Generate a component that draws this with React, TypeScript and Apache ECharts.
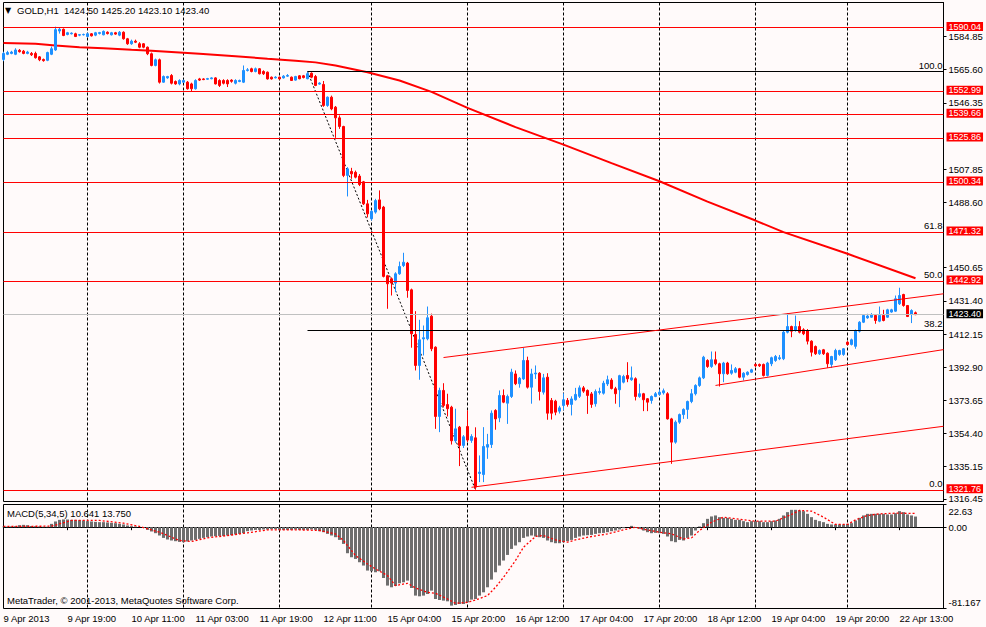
import React, { useEffect, useRef } from "react";
import * as echarts from "echarts";

const SYMBOL = "GOLD,H1";
const YEAR = "2013";
const MACD_NAME = "MACD(5,34,5)";
const MACD_VALUE = 10.641;
const SIGNAL_VALUE = 13.75;
const COPYRIGHT = "MetaTrader, \u00a9 2001-2013, MetaQuotes Software Corp.";

// trading sessions: day label, first hour, last hour
const sessions: [string, number, number][] = [
  ["9 Apr", 3, 23], ["10 Apr", 0, 23], ["11 Apr", 0, 23], ["12 Apr", 0, 22],
  ["15 Apr", 0, 23], ["16 Apr", 0, 23], ["17 Apr", 0, 23], ["18 Apr", 0, 23],
  ["19 Apr", 0, 22], ["22 Apr", 0, 23], ["23 Apr", 0, 0],
];

const opens = [
  1571.5, 1574.5, 1575.0, 1574.5, 1576.8, 1576.3, 1575.0, 1575.0, 1575.0, 1573.0,
  1571.5, 1571.0, 1574.5, 1577.0, 1588.0, 1589.0, 1586.0, 1586.4, 1586.4, 1585.6,
  1585.8, 1584.8, 1586.4, 1585.6, 1586.6, 1585.8, 1587.3, 1585.8, 1587.0, 1585.6,
  1587.3, 1583.5, 1580.6, 1582.1, 1580.6, 1580.6, 1578.6, 1574.8, 1568.0, 1571.3,
  1558.3, 1560.8, 1562.2, 1558.7, 1557.3, 1558.3, 1558.3, 1557.3, 1554.5, 1560.2,
  1560.2, 1560.0, 1560.3, 1560.8, 1559.3, 1559.3, 1559.3, 1559.5, 1557.7, 1558.7,
  1558.3, 1565.1, 1566.1, 1564.5, 1566.1, 1564.5, 1564.1, 1561.2, 1560.8, 1561.2,
  1560.8, 1561.8, 1561.2, 1559.5, 1562.0, 1562.0, 1560.3, 1563.5, 1561.6, 1557.2,
  1557.0, 1544.8, 1549.6, 1543.8, 1537.6, 1532.6, 1504.2, 1506.5, 1506.0, 1503.8,
  1500.5, 1487.7, 1479.0, 1482.9, 1490.0, 1485.8, 1446.0, 1444.2, 1441.7, 1447.1,
  1451.9, 1453.3, 1437.8, 1411.9, 1393.9, 1409.3, 1409.4, 1422.5, 1404.5, 1364.3,
  1379.4, 1371.2, 1369.7, 1350.2, 1358.1, 1347.5, 1358.5, 1350.4, 1351.9, 1331.2,
  1330.6, 1346.5, 1348.0, 1367.8, 1363.5, 1376.5, 1372.0, 1375.9, 1389.0, 1383.3,
  1386.1, 1396.8, 1381.3, 1389.0, 1389.4, 1378.4, 1387.1, 1373.6, 1373.2, 1367.4,
  1370.7, 1373.6, 1371.3, 1374.0, 1376.0, 1380.9, 1379.4, 1377.4, 1371.7, 1378.2,
  1377.8, 1383.2, 1385.4, 1380.4, 1379.8, 1384.2, 1388.1, 1385.6, 1386.2, 1375.9,
  1377.5, 1374.6, 1373.6, 1375.9, 1377.1, 1378.0, 1377.5, 1362.9, 1349.4, 1361.0,
  1365.4, 1368.4, 1373.0, 1377.5, 1382.3, 1386.7, 1396.8, 1393.3, 1397.2, 1394.9,
  1389.1, 1395.3, 1389.4, 1390.0, 1392.0, 1387.1, 1388.7, 1390.0, 1394.5, 1394.5,
  1394.5, 1388.1, 1394.9, 1396.8, 1397.8, 1397.8, 1413.2, 1416.5, 1414.2, 1416.5,
  1414.6, 1414.2, 1408.0, 1404.9, 1400.7, 1403.0, 1401.0, 1394.5, 1397.2, 1400.3,
  1400.3, 1407.4, 1406.1, 1405.0, 1413.8, 1419.0, 1421.5, 1421.9, 1422.9, 1419.6,
  1422.9, 1421.9, 1424.9, 1425.4, 1429.7, 1435.1, 1428.7, 1423.5, 1424.5,
];

const closes = [
  1575.0, 1575.5, 1575.8, 1577.0, 1576.0, 1575.0, 1575.8, 1574.2, 1572.5, 1571.3,
  1570.8, 1575.5, 1577.7, 1588.8, 1589.0, 1585.4, 1587.0, 1586.8, 1584.8, 1585.9,
  1586.0, 1586.4, 1585.2, 1587.0, 1587.1, 1587.8, 1586.5, 1587.0, 1586.2, 1587.3,
  1583.5, 1580.6, 1582.1, 1581.5, 1578.6, 1578.6, 1574.8, 1568.0, 1571.3, 1558.3,
  1561.6, 1561.6, 1557.7, 1557.3, 1559.3, 1559.3, 1554.5, 1554.5, 1559.3, 1559.5,
  1559.8, 1560.4, 1560.8, 1557.3, 1556.4, 1557.7, 1557.3, 1558.8, 1559.3, 1559.3,
  1565.1, 1565.5, 1564.5, 1566.1, 1563.2, 1563.2, 1560.2, 1560.2, 1561.2, 1560.2,
  1561.8, 1562.2, 1559.3, 1561.6, 1560.3, 1561.0, 1563.2, 1561.2, 1556.4, 1557.8,
  1544.8, 1549.6, 1542.8, 1537.6, 1532.6, 1504.2, 1508.0, 1505.1, 1503.2, 1498.9,
  1487.7, 1481.9, 1483.4, 1489.6, 1484.8, 1445.6, 1441.3, 1441.7, 1447.1, 1451.3,
  1453.8, 1437.4, 1412.3, 1393.9, 1408.8, 1410.0, 1421.6, 1403.6, 1364.3, 1379.4,
  1370.7, 1368.8, 1350.2, 1357.1, 1347.5, 1352.5, 1350.6, 1352.7, 1323.3, 1332.0,
  1346.9, 1348.0, 1366.2, 1362.9, 1376.5, 1372.6, 1375.9, 1390.0, 1383.3, 1386.5,
  1396.8, 1381.3, 1389.0, 1389.5, 1378.8, 1386.7, 1366.2, 1366.2, 1366.8, 1369.3,
  1374.0, 1371.3, 1374.5, 1377.1, 1380.9, 1379.0, 1376.5, 1371.3, 1378.8, 1378.8,
  1383.6, 1385.6, 1380.5, 1377.5, 1388.0, 1387.5, 1386.2, 1386.7, 1375.9, 1377.5,
  1374.0, 1372.6, 1375.9, 1377.5, 1378.4, 1379.2, 1362.9, 1349.4, 1361.0, 1365.4,
  1368.4, 1373.0, 1377.5, 1382.3, 1386.7, 1398.7, 1393.3, 1397.2, 1394.9, 1389.1,
  1395.3, 1389.1, 1391.0, 1392.0, 1387.1, 1389.4, 1390.0, 1391.4, 1393.7, 1393.7,
  1388.1, 1395.3, 1398.4, 1399.1, 1398.4, 1413.2, 1416.5, 1413.8, 1416.5, 1413.2,
  1412.3, 1408.0, 1401.6, 1400.7, 1402.6, 1400.7, 1394.9, 1399.1, 1402.6, 1402.6,
  1403.6, 1406.1, 1408.8, 1414.2, 1419.0, 1422.9, 1422.6, 1423.3, 1420.0, 1422.9,
  1420.0, 1426.2, 1426.2, 1432.6, 1434.5, 1428.7, 1422.3, 1425.8, 1423.4,
];

const lows = [
  1570.5, 1574.0, 1574.5, 1574.0, 1575.5, 1574.5, 1574.5, 1573.5, 1572.0, 1570.5,
  1570.2, 1570.5, 1574.0, 1576.5, 1586.5, 1585.0, 1585.5, 1586.0, 1584.5, 1585.0,
  1585.4, 1584.5, 1584.8, 1585.0, 1586.0, 1585.5, 1586.0, 1585.4, 1585.8, 1585.0,
  1583.0, 1580.0, 1580.0, 1581.0, 1578.0, 1578.0, 1574.0, 1567.5, 1567.5, 1557.5,
  1558.0, 1560.3, 1557.0, 1556.8, 1556.5, 1558.0, 1554.0, 1553.0, 1554.0, 1559.0,
  1559.5, 1559.6, 1560.0, 1557.0, 1555.5, 1557.0, 1555.5, 1558.0, 1557.0, 1558.3,
  1557.8, 1564.5, 1564.0, 1564.0, 1562.8, 1562.5, 1559.8, 1559.8, 1560.5, 1559.8,
  1560.4, 1561.4, 1559.0, 1559.2, 1560.0, 1560.5, 1560.0, 1560.6, 1556.0, 1556.8,
  1544.0, 1544.0, 1542.0, 1526.0, 1531.2, 1503.2, 1492.0, 1502.2, 1502.5, 1498.0,
  1487.0, 1479.8, 1478.0, 1482.0, 1484.0, 1445.0, 1426.8, 1434.5, 1436.5, 1446.5,
  1451.0, 1433.2, 1404.2, 1391.0, 1385.6, 1399.7, 1408.5, 1402.2, 1357.1, 1355.2,
  1369.5, 1364.3, 1348.0, 1349.0, 1335.5, 1346.0, 1349.5, 1349.0, 1321.8, 1326.2,
  1326.2, 1339.7, 1346.0, 1356.6, 1361.0, 1372.0, 1360.0, 1375.0, 1382.5, 1381.0,
  1385.5, 1380.5, 1371.7, 1386.1, 1373.6, 1377.0, 1362.4, 1362.5, 1365.0, 1366.0,
  1368.0, 1370.0, 1364.9, 1373.5, 1375.0, 1378.0, 1365.8, 1369.3, 1370.0, 1377.0,
  1377.0, 1382.0, 1380.0, 1371.7, 1369.7, 1383.5, 1384.2, 1385.0, 1373.6, 1375.1,
  1367.4, 1367.4, 1371.7, 1375.5, 1376.5, 1377.0, 1362.5, 1336.8, 1348.5, 1360.0,
  1362.9, 1362.9, 1372.0, 1376.5, 1381.5, 1386.0, 1392.5, 1392.5, 1394.0, 1381.7,
  1384.2, 1388.5, 1388.5, 1389.4, 1386.5, 1385.2, 1388.0, 1389.5, 1393.0, 1393.0,
  1387.5, 1387.5, 1393.5, 1396.0, 1397.0, 1397.0, 1412.5, 1410.3, 1413.5, 1412.5,
  1411.5, 1406.1, 1399.1, 1400.0, 1400.0, 1400.0, 1392.5, 1392.5, 1396.5, 1399.5,
  1399.5, 1405.5, 1405.5, 1403.6, 1413.0, 1418.5, 1421.0, 1421.5, 1418.1, 1419.0,
  1419.5, 1421.5, 1424.5, 1425.0, 1429.0, 1428.0, 1422.0, 1418.5, 1423.1,
];

const highs = [
  1576.0, 1576.5, 1576.5, 1578.0, 1577.5, 1577.0, 1576.5, 1575.8, 1576.0, 1573.5,
  1572.0, 1576.0, 1579.0, 1590.5, 1590.0, 1589.5, 1587.5, 1587.2, 1587.0, 1586.2,
  1586.5, 1587.0, 1586.8, 1587.5, 1587.5, 1588.3, 1587.8, 1587.5, 1587.5, 1588.0,
  1587.8, 1584.0, 1583.0, 1583.0, 1581.5, 1581.0, 1579.0, 1575.5, 1572.0, 1572.0,
  1562.2, 1562.0, 1563.0, 1559.3, 1560.0, 1559.8, 1559.0, 1558.0, 1560.0, 1560.8,
  1560.6, 1560.8, 1561.2, 1561.2, 1560.0, 1560.0, 1560.0, 1560.0, 1560.0, 1559.8,
  1568.0, 1566.5, 1566.7, 1566.8, 1566.5, 1565.2, 1564.5, 1561.6, 1561.8, 1561.6,
  1562.4, 1563.0, 1561.6, 1562.0, 1562.4, 1562.5, 1564.5, 1564.0, 1562.5, 1558.3,
  1559.0, 1550.0, 1550.5, 1544.5, 1539.0, 1533.0, 1509.0, 1508.6, 1507.0, 1505.0,
  1501.0, 1490.0, 1484.0, 1490.6, 1495.5, 1486.5, 1446.5, 1445.0, 1448.0, 1454.2,
  1459.3, 1454.0, 1438.5, 1425.4, 1420.4, 1417.1, 1428.1, 1424.0, 1405.0, 1381.0,
  1383.6, 1377.5, 1370.5, 1368.8, 1358.8, 1353.5, 1367.8, 1354.0, 1358.0, 1341.7,
  1358.1, 1354.2, 1367.8, 1368.5, 1379.4, 1380.0, 1377.0, 1392.0, 1391.0, 1387.2,
  1404.1, 1399.0, 1392.0, 1393.9, 1390.0, 1389.0, 1389.4, 1375.0, 1374.0, 1370.5,
  1377.8, 1375.0, 1376.0, 1380.9, 1382.3, 1382.0, 1380.0, 1378.5, 1380.0, 1381.0,
  1385.0, 1388.0, 1386.5, 1381.5, 1388.5, 1388.5, 1395.8, 1393.3, 1387.0, 1383.3,
  1378.0, 1375.0, 1376.5, 1378.5, 1380.0, 1380.5, 1378.4, 1363.5, 1362.0, 1366.0,
  1369.0, 1373.5, 1380.2, 1383.0, 1387.5, 1399.5, 1397.5, 1402.0, 1402.0, 1395.5,
  1396.0, 1396.0, 1394.5, 1393.0, 1392.5, 1390.0, 1390.5, 1392.0, 1395.0, 1395.0,
  1395.0, 1396.0, 1399.0, 1400.0, 1400.0, 1414.2, 1424.3, 1417.0, 1422.9, 1419.6,
  1415.5, 1415.0, 1408.5, 1405.5, 1403.2, 1403.5, 1401.5, 1399.5, 1403.6, 1403.0,
  1404.0, 1408.0, 1409.5, 1414.8, 1419.6, 1423.5, 1423.9, 1424.3, 1423.5, 1428.1,
  1426.2, 1426.8, 1426.8, 1434.5, 1439.0, 1435.5, 1429.0, 1426.5, 1425.2,
];

const macdHist = [
  0.5, 0.6, 0.8, 1.0, 2.0, 2.3, 2.0, 1.2, 1.0, 0.8,
  0.5, 0.5, 3.3, 5.7, 7.3, 7.7, 7.7, 7.3, 7.3, 7.0,
  6.7, 6.0, 5.7, 5.3, 5.0, 5.0, 4.7, 4.3, 4.0, 3.3,
  2.7, 1.7, 1.0, 0.7, 0.0, -0.7, -2.7, -4.3, -6.0, -8.3,
  -10.7, -12.3, -13.3, -14.0, -14.7, -15.0, -14.3, -13.3, -12.7, -11.7,
  -10.7, -10.0, -9.3, -9.0, -8.7, -8.7, -8.3, -8.0, -7.3, -6.7,
  -6.0, -4.0, -3.3, -2.7, -2.7, -2.3, -2.3, -2.0, -2.0, -2.7,
  -2.7, -2.7, -2.7, -2.3, -2.7, -2.7, -2.7, -2.3, -2.7, -4.0,
  -5.0, -6.7, -8.3, -10.0, -12.7, -16.7, -26.0, -30.0, -31.7, -35.0,
  -38.3, -43.3, -44.0, -45.0, -44.0, -50.7, -58.3, -60.0, -58.7, -56.0,
  -55.0, -53.3, -60.7, -68.3, -69.0, -68.3, -66.7, -63.3, -71.7, -72.7,
  -73.3, -74.0, -78.3, -77.7, -76.7, -76.7, -75.0, -72.3, -71.7, -68.3,
  -65.0, -60.0, -52.3, -45.0, -38.3, -33.3, -27.7, -21.7, -18.3, -15.0,
  -10.7, -9.3, -8.3, -9.3, -10.0, -10.7, -13.3, -15.0, -16.0, -16.0,
  -15.0, -14.0, -12.7, -10.7, -9.3, -8.3, -8.0, -7.7, -6.7, -6.0,
  -5.7, -5.0, -4.0, -3.3, -2.3, -1.0, 0.0, 1.3, -0.7, -1.7,
  -3.3, -5.0, -6.0, -5.7, -6.0, -6.7, -9.3, -14.0, -15.0, -12.7,
  -13.3, -10.7, -8.3, -3.3, 0.7, 4.0, 8.3, 10.7, 11.7, 10.0,
  9.3, 9.3, 8.3, 7.3, 7.3, 6.0, 5.0, 6.0, 6.0, 6.0,
  5.0, 5.0, 6.0, 6.7, 8.3, 11.7, 15.0, 17.3, 17.3, 16.7,
  16.0, 13.3, 10.0, 7.3, 6.0, 5.0, 3.3, 2.7, 2.7, 2.7,
  2.7, 3.3, 4.0, 6.7, 9.3, 11.7, 13.3, 13.3, 13.3, 13.3,
  13.3, 12.7, 12.7, 14.0, 16.0, 15.0, 12.7, 11.7, 10.6,
];

// signal line, read at [bar index, value]
const signalPoints: [number, number][] = [
  [0, 0.7], [12, 1.0], [17, 6.7], [24, 6.7], [30, 4.0], [34, 0.7], [39, -5.0],
  [44, -13.3], [47, -14.3], [51, -10.7], [56, -8.3], [61, -5.7], [66, -2.7],
  [74, -2.7], [79, -3.3], [83, -6.7], [85, -13.3], [88, -28.3], [91, -36.7],
  [93, -41.7], [96, -48.3], [98, -58.3], [101, -56.0], [103, -60.7], [106, -65.0],
  [108, -66.0], [111, -71.7], [113, -76.0], [116, -75.0], [118, -72.7], [121, -68.3],
  [123, -60.0], [125, -50.0], [128, -33.3], [130, -20.0], [133, -9.3], [135, -8.3],
  [138, -12.7], [141, -15.0], [143, -12.7], [147, -9.3], [151, -6.7], [155, -2.7],
  [158, 0.0], [160, -2.0], [164, -5.0], [167, -6.7], [170, -11.7], [172, -10.7],
  [174, -3.3], [177, 5.0], [180, 10.0], [185, 7.3], [188, 6.0], [193, 6.0],
  [197, 12.7], [199, 16.7], [202, 16.0], [205, 10.0], [208, 2.7], [211, 2.7],
  [213, 7.3], [216, 11.7], [219, 13.3], [223, 14.0], [228, 13.75],
];

// moving average, read at [bar index, price]
const maPoints: [number, number][] = [
  [0, 1581.0], [8, 1580.6], [13, 1579.6], [19, 1578.6], [25, 1578.0], [32, 1577.1],
  [37, 1576.6], [43, 1575.7], [49, 1574.8], [58, 1573.4], [66, 1571.9], [73, 1570.8],
  [78, 1569.8], [83, 1568.0], [91, 1564.1], [99, 1559.3], [107, 1552.7], [116, 1543.4],
  [128, 1532.2], [140, 1522.1], [152, 1511.3], [164, 1500.8], [176, 1489.0],
  [188, 1478.0], [195, 1471.3], [211, 1458.7], [228, 1444.5],
];

const priceLevels = [1590.04, 1552.99, 1539.66, 1525.86, 1500.34, 1471.32, 1442.92, 1321.76];
const currentPrice = 1423.4;
const lastBar = { open: 1424.5, high: 1425.2, low: 1423.1, close: 1423.4 };

const fiboHigh = 1564.5;
const fiboLow = 1321.76;
const fiboStartBar = 76;
const fiboEndBar = 118;
const fiboLevels = [100.0, 61.8, 50.0, 38.2, 0.0];

// [barFrom, priceFrom, barTo, priceTo]
const trendLines: [number, number, number, number][] = [
  [110, 1398.5, 235, 1435.5],
  [117, 1323.2, 235, 1358.6],
  [178, 1382.3, 235, 1403.1],
];

// visible price-scale labels (those hidden under the level tags are left out)
const priceTicks = [1584.85, 1565.6, 1546.35, 1507.85, 1488.6, 1450.65,
  1431.4, 1412.15, 1392.9, 1373.65, 1354.4, 1335.15, 1316.45];
const priceMin = 1314.95;
const priceMax = 1604.55;
const macdTicks = [22.63, 0, -81.167];
const macdMax = 22.63;
const macdMin = -81.167;

const FONT = '"Liberation Sans", Arial, sans-serif';
const FS = 9.5;
const TAG_FS = 9;
const BG = "#fffafa";
const BULL = "#1e90ff";
const BEAR = "#ff0000";

export default function App() {
  const ref = useRef<HTMLDivElement>(null);
  useEffect(() => {
    document.body.style.margin = "0";
    if (!ref.current) return;
    const chart = echarts.init(ref.current, undefined, { renderer: "svg" });

    const categories: string[] = [];
    const dayStarts = new Set<number>();
    sessions.forEach(([d, h0, h1], k) => {
      if (k > 0 && k < sessions.length - 1) dayStarts.add(categories.length);
      for (let h = h0; h <= h1; h++) categories.push(`${d} ${String(h).padStart(2, "0")}:00`);
    });
    const lastIdx = categories.length - 1;

    const candles = opens.map((o, i) => [o, closes[i], lows[i], highs[i]]);
    const fiboPrice = (l: number) => fiboLow + ((fiboHigh - fiboLow) * l) / 100;
    // fibo levels that sit on a red level line are covered by it
    const underLevel = (p: number) => priceLevels.some((q) => Math.abs(q - p) < 1.5);

    const splitLine = {
      show: true,
      interval: (i: number) => dayStarts.has(i),
      lineStyle: { color: "#000", type: [3, 2], width: 1 },
    };

    const tag = (bg: string) => ({
      show: true,
      position: "end",
      distance: 3,
      offset: [0, -1],
      backgroundColor: bg,
      color: "#fff",
      fontFamily: FONT,
      fontSize: TAG_FS,
      lineHeight: 8,
      padding: [0, 2, 1, 2],
    });

    const option: any = {
      animation: false,
      backgroundColor: BG,
      textStyle: { fontFamily: FONT },
      grid: [
        { left: 3.5, top: 2.5, width: 940, height: 499, show: true, borderColor: "#000", borderWidth: 1, outerBoundsMode: "none", containLabel: false },
        { left: 3.5, top: 504.5, width: 940, height: 104, show: true, borderColor: "#000", borderWidth: 1, outerBoundsMode: "none", containLabel: false },
      ],
      xAxis: [
        {
          type: "category", gridIndex: 0, data: categories, boundaryGap: false,
          axisLine: { show: false }, axisTick: { show: false }, axisLabel: { show: false },
          splitLine,
        },
        {
          type: "category", gridIndex: 1, data: categories, boundaryGap: false,
          axisLine: { show: true, lineStyle: { color: "#000" } },
          axisTick: { show: true, interval: (i: number) => i % 16 === 0, length: 3, lineStyle: { color: "#000" } },
          axisLabel: {
            show: true, interval: (i: number) => i % 16 === 0, align: "left", margin: 5,
            color: "#000", fontSize: FS, fontFamily: FONT,
            formatter: (v: string, i: number) => (i === 0 ? `${sessions[0][0]} ${YEAR}` : v),
          },
          splitLine,
        },
      ],
      yAxis: [
        {
          type: "value", gridIndex: 0, position: "right", min: priceMin, max: priceMax,
          axisLine: { show: true, lineStyle: { color: "#000" } },
          axisTick: { show: true, length: 3, customValues: priceTicks, lineStyle: { color: "#000" } },
          axisLabel: {
            show: true, customValues: priceTicks, margin: 5, color: "#000", fontSize: FS, lineHeight: 8, fontFamily: FONT,
            formatter: (v: number) => v.toFixed(2),
          },
          splitLine: { show: false },
        },
        {
          type: "value", gridIndex: 1, position: "right", min: macdMin, max: macdMax,
          axisLine: { show: true, lineStyle: { color: "#000" } },
          axisTick: { show: true, length: 3, customValues: macdTicks, lineStyle: { color: "#000" } },
          axisLabel: {
            show: true, customValues: macdTicks, margin: 5, color: "#000", fontSize: FS, fontFamily: FONT,
            formatter: (v: number) =>
              v === macdMax ? `{top|${v}}` : v === macdMin ? `{bot|${v}}` : v.toFixed(2),
            rich: {
              top: { padding: [14, 0, 0, 0], fontSize: FS, color: "#000", fontFamily: FONT },
              bot: { padding: [0, 0, 12, 0], fontSize: FS, color: "#000", fontFamily: FONT },
            },
          },
          splitLine: { show: false },
        },
      ],
      series: [
        {
          name: "fibo",
          type: "line",
          xAxisIndex: 0, yAxisIndex: 0, z: 1,
          data: [[fiboStartBar, fiboHigh], [fiboEndBar, fiboLow]],
          symbol: "none",
          lineStyle: { color: "#000", width: 1, type: [2, 2] },
          silent: true,
          markLine: {
            silent: true, symbol: ["none", "none"], animation: false,
            lineStyle: { color: "#000", width: 1, type: "solid" },
            emphasis: { disabled: true },
            data: fiboLevels.map((l) => [
              {
                coord: [fiboStartBar, fiboPrice(l)],
                lineStyle: { color: underLevel(fiboPrice(l)) ? "rgba(0,0,0,0)" : "#000", width: 1, type: "solid" },
                label: {
                  show: true, position: "insideEndTop", distance: [1, 1], formatter: l.toFixed(1),
                  color: "#000", fontSize: FS, fontFamily: FONT,
                },
              },
              { coord: [lastIdx, fiboPrice(l)] },
            ]),
          },
        },
        {
          name: "MA",
          type: "line",
          xAxisIndex: 0, yAxisIndex: 0, z: 2,
          data: maPoints,
          symbol: "none",
          lineStyle: { color: "#ff0000", width: 2 },
          silent: true,
          markLine: {
            silent: true, symbol: ["none", "none"], animation: false,
            emphasis: { disabled: true },
            lineStyle: { color: "#ff0000", width: 1, type: "solid" },
            data: [
              ...trendLines.map(([b1, p1, b2, p2]) => [
                { coord: [b1, p1], label: { show: false } },
                { coord: [b2, p2] },
              ]),
              { yAxis: currentPrice, lineStyle: { color: "#c0c0c0", width: 1, type: "solid" }, label: { ...tag("#000"), formatter: currentPrice.toFixed(2) } },
              ...priceLevels.map((p) => ({
                yAxis: p,
                lineStyle: { color: "#ff0000", width: 1, type: "solid" },
                label: { ...tag("#ff0000"), formatter: p.toFixed(2) },
              })),
            ],
          },
        },
        {
          name: SYMBOL,
          type: "candlestick",
          xAxisIndex: 0, yAxisIndex: 0, z: 3,
          data: candles,
          barWidth: 2,
          silent: true,
          itemStyle: { color: BULL, color0: BEAR, borderColor: BULL, borderColor0: BEAR, borderWidth: 1 },
        },
        {
          name: "MACD",
          type: "bar",
          xAxisIndex: 1, yAxisIndex: 1,
          data: macdHist,
          barWidth: 3,
          silent: true,
          itemStyle: { color: "#6e6e6e" },
        },
        {
          name: "Signal",
          type: "line",
          xAxisIndex: 1, yAxisIndex: 1, z: 4,
          data: signalPoints,
          symbol: "none",
          silent: true,
          lineStyle: { color: "#ff0000", width: 1.3, type: [2, 2] },
        },
      ],
      graphic: [
        { type: "text", x: 5, y: 10, silent: true, style: { text: "\u25bc", fontSize: 8, fontFamily: '"DejaVu Sans", sans-serif', fill: "#000", verticalAlign: "middle", textVerticalAlign: "middle" } },
        {
          type: "text", x: 17, y: 10, silent: true,
          style: {
            text: `${SYMBOL}  ${lastBar.open.toFixed(2)} ${lastBar.high.toFixed(2)} ${lastBar.low.toFixed(2)} ${lastBar.close.toFixed(2)}`,
            fontSize: FS, fontFamily: FONT, fill: "#000", verticalAlign: "middle", textVerticalAlign: "middle",
          },
        },
        {
          type: "text", x: 7, y: 513, silent: true,
          style: { text: `${MACD_NAME} ${MACD_VALUE.toFixed(3)} ${SIGNAL_VALUE.toFixed(3)}`, fontSize: FS, fontFamily: FONT, fill: "#000", verticalAlign: "middle", textVerticalAlign: "middle" },
        },
        {
          type: "text", x: 7, y: 600, silent: true,
          style: { text: COPYRIGHT, fontSize: FS, fontFamily: FONT, fill: "#000", verticalAlign: "middle", textVerticalAlign: "middle" },
        },
      ],
    };
    chart.setOption(option);
    return () => chart.dispose();
  }, []);

  return <div ref={ref} style={{ width: 986, height: 627, background: BG }} />;
}
